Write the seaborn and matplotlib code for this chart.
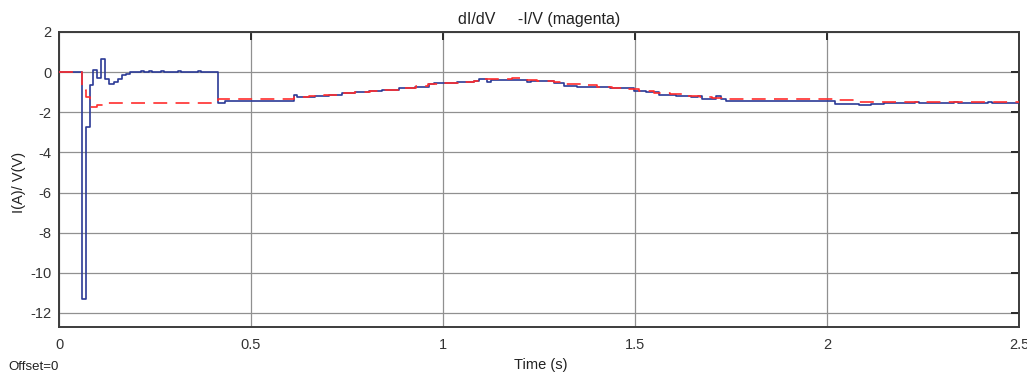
import numpy as np
import pandas as pd
import seaborn as sns
import matplotlib
matplotlib.use("Agg")
import matplotlib.pyplot as plt

# DATA (step-post samples)
blue_t = [0.000, 0.060, 0.070, 0.080, 0.089, 0.098, 0.109, 0.120, 0.130, 0.142,
          0.153, 0.163, 0.175, 0.185, 0.213, 0.221, 0.234, 0.242, 0.265, 0.273,
          0.309, 0.317, 0.361, 0.369, 0.413, 0.433, 0.611, 0.620, 0.641, 0.667,
          0.702, 0.737, 0.772, 0.806, 0.841, 0.885, 0.928, 0.963, 0.976, 1.037,
          1.080, 1.093, 1.115, 1.124, 1.219, 1.228, 1.289, 1.315, 1.350, 1.384,
          1.436, 1.497, 1.528, 1.563, 1.606, 1.645, 1.663, 1.675, 1.710, 1.723,
          1.736, 2.020, 2.084, 2.114, 2.149, 2.230, 2.240, 2.330, 2.340, 2.420,
          2.430, 2.500]
blue_v = [0.0, -11.3, -2.75, -0.62, 0.1, -0.28, 0.63, -0.32, -0.57, -0.47,
          -0.32, -0.15, -0.07, 0.0, 0.06, 0.0, 0.06, 0.0, 0.06, 0.0,
          0.06, 0.0, 0.06, 0.0, -1.52, -1.42, -1.13, -1.25, -1.22, -1.17,
          -1.12, -1.05, -1.0, -0.95, -0.88, -0.78, -0.72, -0.58, -0.55, -0.5,
          -0.45, -0.33, -0.48, -0.38, -0.48, -0.45, -0.55, -0.67, -0.72, -0.75,
          -0.8, -0.92, -1.0, -1.12, -1.2, -1.25, -1.17, -1.33, -1.17, -1.33,
          -1.42, -1.57, -1.62, -1.57, -1.53, -1.49, -1.53, -1.49, -1.53, -1.49,
          -1.53, -1.53]

red_t = [0.000, 0.060, 0.070, 0.080, 0.100, 0.120, 0.415, 0.611, 0.650, 0.690,
         0.730, 0.770, 0.810, 0.850, 0.890, 0.930, 0.960, 1.000, 1.040, 1.080,
         1.095, 1.150, 1.180, 1.220, 1.245, 1.290, 1.320, 1.360, 1.400, 1.440,
         1.480, 1.510, 1.550, 1.590, 1.630, 1.670, 1.700, 1.736, 2.027, 2.080,
         2.500]
red_v = [0.0, -0.9, -1.25, -1.73, -1.62, -1.52, -1.33, -1.22, -1.2, -1.12,
         -1.05, -1.0, -0.93, -0.87, -0.8, -0.7, -0.6, -0.55, -0.5, -0.42,
         -0.33, -0.36, -0.3, -0.38, -0.45, -0.5, -0.58, -0.65, -0.72, -0.78,
         -0.85, -0.93, -1.03, -1.1, -1.18, -1.25, -1.3, -1.33, -1.4, -1.47,
         -1.47]

x_ticks = [0, 0.5, 1, 1.5, 2, 2.5]
x_ticklabels = ["0", "0.5", "1", "1.5", "2", "2.5"]
y_ticks = [2, 0, -2, -4, -6, -8, -10, -12]

blue_df = pd.DataFrame({"t": blue_t, "v": blue_v})
red_df = pd.DataFrame({"t": red_t, "v": red_v})

# STYLE
sns.set_theme(style="white")
plt.rcParams["font.family"] = ["Liberation Sans", "DejaVu Sans"]
plt.rcParams["lines.scale_dashes"] = False
plt.rcParams["axes.unicode_minus"] = False

fig = plt.figure(figsize=(10.27, 3.76), dpi=100)
ax = fig.add_axes([59 / 1027, 49 / 376, (1019 - 59) / 1027, (327 - 32) / 376])

sns.lineplot(data=blue_df, x="t", y="v", ax=ax, color="#2b3a96", lw=1.2,
             drawstyle="steps-post", estimator=None, sort=False, zorder=3)
sns.lineplot(data=red_df, x="t", y="v", ax=ax, color="#ff2d2d", lw=1.2,
             drawstyle="steps-post", estimator=None, sort=False, zorder=4,
             linestyle=(0, (10, 6)))

ax.set_xlim(0, 2.5)
ax.set_ylim(-12.7, 2)
ax.set_xticks(x_ticks)
ax.set_xticklabels(x_ticklabels)
ax.set_yticks(y_ticks)
ax.grid(True, color="#909090", lw=0.9)
for s in ax.spines.values():
    s.set_color("#3c3c3c")
    s.set_linewidth(1.4)
ax.tick_params(direction="in", length=6, width=1.4, color="#2a2a2a",
               top=True, right=True, labelsize=10.5, labelcolor="#333333")
ax.tick_params(axis="x", pad=8)
ax.tick_params(axis="y", pad=5.5)

ax.set_title("dI/dV     -I/V (magenta)", fontsize=11.5, color="#222222", pad=6)
ax.set_xlabel("Time (s)", fontsize=10.5, color="#222222")
ax.set_ylabel("I(A)/ V(V)", fontsize=10.5, color="#222222")
ax.xaxis.set_label_coords(0.502, -0.105)
ax.yaxis.set_label_coords(-0.034, 0.49)

fig.text(8 / 1027, 9 / 376, "Offset=0", fontsize=9.5, color="#222222",
         ha="left", va="center")

fig.savefig("out.png", dpi=100)
